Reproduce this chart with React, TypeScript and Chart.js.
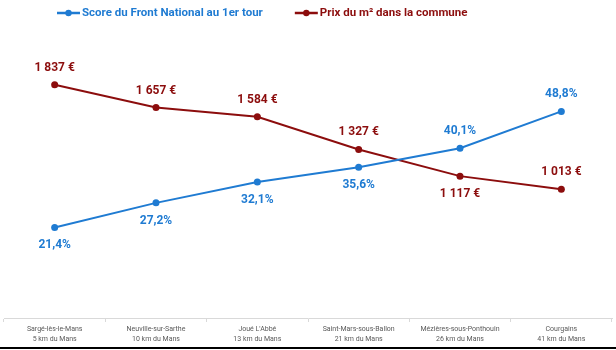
import React, { useEffect, useRef } from 'react';
import { Chart, registerables } from 'chart.js';

Chart.register(...registerables);

const categories: string[][] = [
  ['Sargé-lès-le-Mans', '5 km du Mans'],
  ['Neuville-sur-Sarthe', '10 km du Mans'],
  ["Joué L'Abbé", '13 km du Mans'],
  ['Saint-Mars-sous-Ballon', '21 km du Mans'],
  ['Mézières-sous-Ponthouin', '26 km du Mans'],
  ['Courgains', '41 km du Mans'],
];
const fnScore = [21.4, 27.2, 32.1, 35.6, 40.1, 48.8];
const prixM2 = [1837, 1657, 1584, 1327, 1117, 1013];
const seriesNames = ['Score du Front National au 1er tour', 'Prix du m² dans la commune'];

const scoreLabelPos = ['below', 'below', 'below', 'below', 'above', 'above'];
const prixLabelPos = ['above', 'above', 'above', 'above', 'below', 'above'];

const BLUE = '#1f7bd2';
const RED = '#8c0d0d';
const FONT = 'Roboto';

const fmtPct = (v: number) => v.toFixed(1).replace('.', ',') + '%';
const fmtEur = (v: number) => String(Math.round(v)).replace(/\B(?=(\d{3})+(?!\d))/g, ' ') + ' €';

const valueLabels = {
  id: 'valueLabels',
  afterDatasetsDraw(chart: any) {
    const ctx = chart.ctx;
    ctx.save();
    ctx.font = `bold 12px ${FONT}`;
    ctx.textAlign = 'center';
    ctx.textBaseline = 'middle';
    chart.data.datasets.forEach((ds: any, i: number) => {
      const meta = chart.getDatasetMeta(i);
      ctx.fillStyle = ds.borderColor;
      meta.data.forEach((pt: any, j: number) => {
        const pos = ds.labelPos[j];
        const y = pos === 'above' ? pt.y - 17 : pt.y + 18;
        ctx.fillText(ds.fmt(ds.data[j]), pt.x, y);
      });
    });
    ctx.restore();
  },
};

const customLegend = {
  id: 'customLegend',
  afterDraw(chart: any) {
    const ctx = chart.ctx;
    ctx.save();
    ctx.font = `bold 11.5px ${FONT}`;
    ctx.textBaseline = 'middle';
    ctx.textAlign = 'left';
    let x = 57;
    const y = 13;
    chart.data.datasets.forEach((ds: any) => {
      ctx.strokeStyle = ds.borderColor;
      ctx.fillStyle = ds.borderColor;
      ctx.lineWidth = 2.5;
      ctx.beginPath();
      ctx.moveTo(x, y);
      ctx.lineTo(x + 23, y);
      ctx.stroke();
      ctx.beginPath();
      ctx.arc(x + 11.5, y, 3.2, 0, Math.PI * 2);
      ctx.fill();
      ctx.fillText(ds.label, x + 25, y);
      const w = ctx.measureText(ds.label).width;
      x += 25 + w + 32;
    });
    ctx.restore();
  },
};

export default function App() {
  const ref = useRef<HTMLCanvasElement | null>(null);
  useEffect(() => {
    if (!ref.current) return;
    const chart = new Chart(ref.current, {
      type: 'line',
      data: {
        labels: categories,
        datasets: [
          {
            label: seriesNames[0],
            data: fnScore,
            yAxisID: 'y',
            borderColor: BLUE,
            backgroundColor: BLUE,
            borderWidth: 2,
            pointRadius: 3.5,
            pointBackgroundColor: BLUE,
            pointBorderWidth: 0,
            tension: 0,
            labelPos: scoreLabelPos,
            fmt: fmtPct,
          } as any,
          {
            label: seriesNames[1],
            data: prixM2,
            yAxisID: 'y1',
            borderColor: RED,
            backgroundColor: RED,
            borderWidth: 2,
            pointRadius: 3.5,
            pointBackgroundColor: RED,
            pointBorderWidth: 0,
            tension: 0,
            labelPos: prixLabelPos,
            fmt: fmtEur,
          } as any,
        ],
      },
      options: {
        animation: false,
        responsive: false,
        maintainAspectRatio: false,
        layout: { padding: { left: 3, right: 3, top: 64, bottom: 4 } },
        plugins: {
          legend: { display: false },
          tooltip: { enabled: false },
        },
        scales: {
          x: {
            offset: true,
            grid: {
              offset: true,
              drawOnChartArea: false,
              color: '#d9d9d9',
              tickLength: 4,
            },
            border: { color: '#d9d9d9' },
            ticks: {
              autoSkip: false,
              maxRotation: 0,
              padding: 2,
              color: '#595959',
              font: { family: FONT, size: 7, lineHeight: '10px' as any },
            },
          },
          y: { display: false, min: 0, max: 60 },
          y1: { display: false, min: 0, max: 2000 },
        },
      },
      plugins: [valueLabels, customLegend],
    });
    return () => chart.destroy();
  }, []);
  return (
    <div style={{ position: 'fixed', left: 0, top: 0, width: 616, height: 350, background: '#fff' }}>
      <canvas ref={ref} width={616} height={350} style={{ width: 616, height: 350, display: 'block' }} />
      <div style={{ position: 'absolute', left: 0, top: 347, width: 616, height: 2, background: '#000' }} />
    </div>
  );
}
